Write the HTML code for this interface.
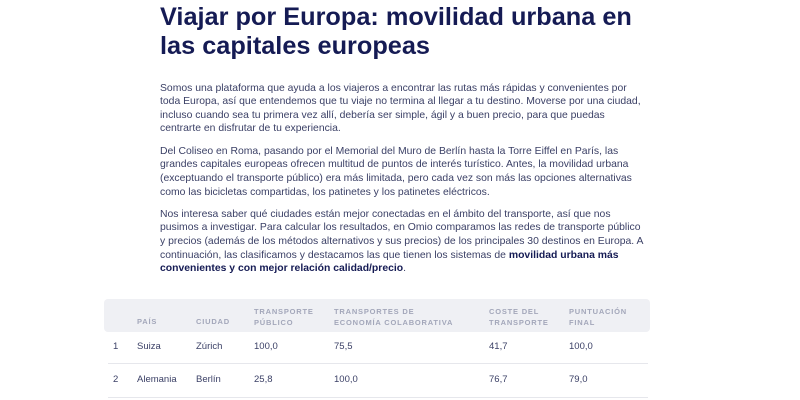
<!DOCTYPE html>
<html><head><meta charset="utf-8"><style>
body{margin:0;width:800px;height:400px;background:#fff;overflow:hidden;font-family:"Liberation Sans",sans-serif;position:relative}
.t{position:absolute;left:160px;font-size:25.3px;line-height:28px;font-weight:bold;color:#151b54;white-space:nowrap}
.p{position:absolute;left:160px;font-size:10.4px;line-height:12px;color:#3b4066;white-space:nowrap}
.hd{position:absolute;left:104px;top:299px;width:546px;height:33px;background:#eff0f4;border-radius:4px}
.h{position:absolute;font-size:7.5px;font-weight:bold;color:#a3a7ba;letter-spacing:0.8px;line-height:11px;white-space:nowrap}
.c{position:absolute;font-size:9.5px;color:#3b4066;white-space:nowrap}
.ln{position:absolute;left:108px;width:540px;height:1px;background:#e6e7ec}
</style></head><body>
<div class="t" style="top:3px">Viajar por Europa: movilidad urbana en</div>
<div class="t" style="top:32px">las capitales europeas</div>
<div class="p" style="top:83px">Somos una plataforma que ayuda a los viajeros a encontrar las rutas más rápidas y convenientes por</div>
<div class="p" style="top:96px">toda Europa, así que entendemos que tu viaje no termina al llegar a tu destino. Moverse por una ciudad,</div>
<div class="p" style="top:110px">incluso cuando sea tu primera vez allí, debería ser simple, ágil y a buen precio, para que puedas</div>
<div class="p" style="top:123px">centrarte en disfrutar de tu experiencia.</div>
<div class="p" style="top:146px">Del Coliseo en Roma, pasando por el Memorial del Muro de Berlín hasta la Torre Eiffel en París, las</div>
<div class="p" style="top:159px">grandes capitales europeas ofrecen multitud de puntos de interés turístico. Antes, la movilidad urbana</div>
<div class="p" style="top:173px">(exceptuando el transporte público) era más limitada, pero cada vez son más las opciones alternativas</div>
<div class="p" style="top:187px">como las bicicletas compartidas, los patinetes y los patinetes eléctricos.</div>
<div class="p" style="top:209px">Nos interesa saber qué ciudades están mejor conectadas en el ámbito del transporte, así que nos</div>
<div class="p" style="top:222px">pusimos a investigar. Para calcular los resultados, en Omio comparamos las redes de transporte público</div>
<div class="p" style="top:236px">y precios (además de los métodos alternativos y sus precios) de los principales 30 destinos en Europa. A</div>
<div class="p" style="top:250px">continuación, las clasificamos y destacamos las que tienen los sistemas de <b style="color:#151b54">movilidad urbana más</b></div>
<div class="p" style="top:263px"><b style="color:#151b54">convenientes y con mejor relación calidad/precio</b>.</div>
<div class="hd"></div>
<div class="h" style="left:137px;top:316px">PAÍS</div>
<div class="h" style="left:196px;top:316px">CIUDAD</div>
<div class="h" style="left:254px;top:306px">TRANSPORTE<br>PÚBLICO</div>
<div class="h" style="left:334px;top:306px">TRANSPORTES DE<br>ECONOMÍA COLABORATIVA</div>
<div class="h" style="left:489px;top:306px">COSTE DEL<br>TRANSPORTE</div>
<div class="h" style="left:569px;top:306px">PUNTUACIÓN<br>FINAL</div>
<div class="c" style="left:113px;top:341px">1</div>
<div class="c" style="left:137px;top:341px">Suiza</div>
<div class="c" style="left:196px;top:341px">Zúrich</div>
<div class="c" style="left:254px;top:341px">100,0</div>
<div class="c" style="left:334px;top:341px">75,5</div>
<div class="c" style="left:489px;top:341px">41,7</div>
<div class="c" style="left:569px;top:341px">100,0</div>
<div class="ln" style="top:363px"></div>
<div class="c" style="left:113px;top:374px">2</div>
<div class="c" style="left:137px;top:374px">Alemania</div>
<div class="c" style="left:196px;top:374px">Berlín</div>
<div class="c" style="left:254px;top:374px">25,8</div>
<div class="c" style="left:334px;top:374px">100,0</div>
<div class="c" style="left:489px;top:374px">76,7</div>
<div class="c" style="left:569px;top:374px">79,0</div>
<div class="ln" style="top:397px"></div>
</body></html>
